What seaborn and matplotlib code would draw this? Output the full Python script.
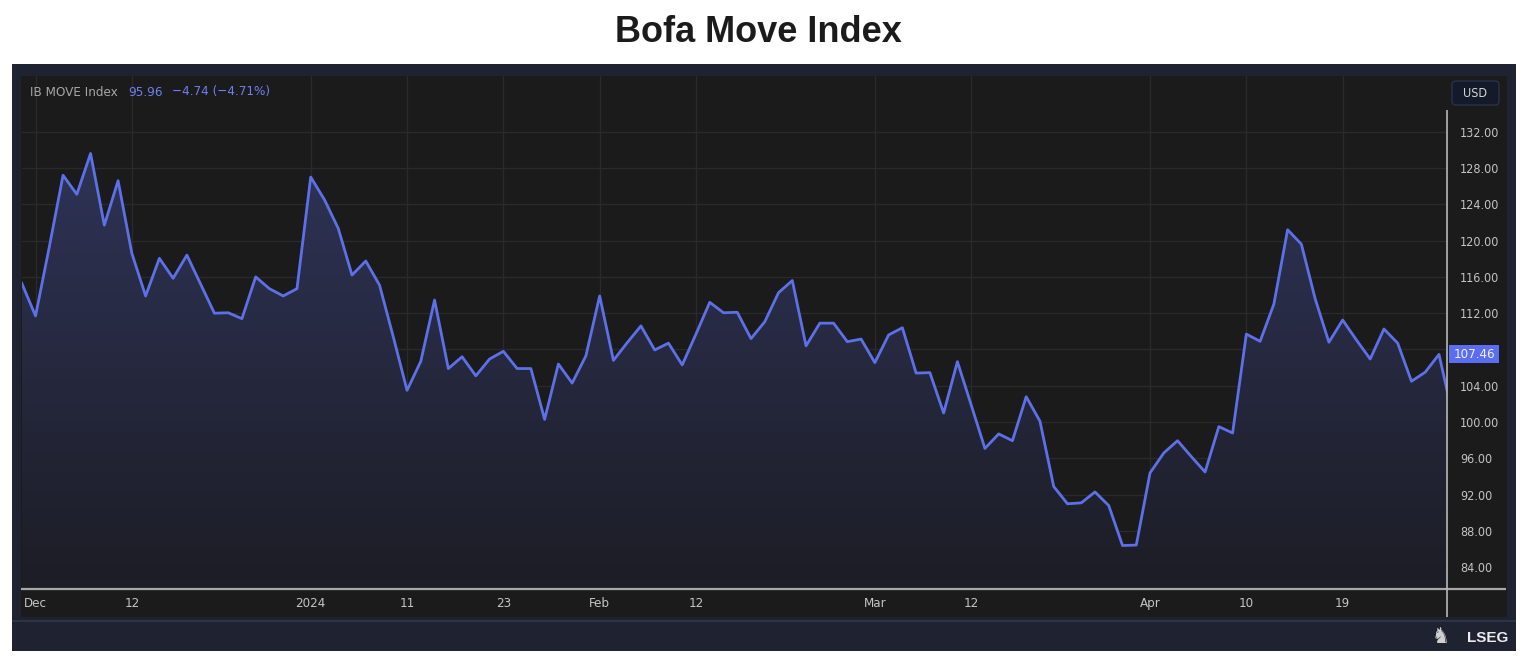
import numpy as np
import pandas as pd
import seaborn as sns
import matplotlib.pyplot as plt
from matplotlib.patches import Rectangle, FancyBboxPatch
from matplotlib.transforms import blended_transform_factory
from matplotlib.colors import LinearSegmentedColormap

# Pregões (dias úteis do mercado de títulos dos EUA)
feriados = ["2023-12-25", "2024-01-01", "2024-01-15", "2024-02-19", "2024-03-29"]
datas = pd.bdate_range("2023-11-30", "2024-05-01", freq="C", holidays=feriados)

# Valores do ICE BofA MOVE
valores = [
    115.3, 111.7, 119.3, 127.2, 125.1, 129.6, 121.7, 126.6, 118.6, 113.9,
    118.05, 115.85, 118.4, 115.2, 112.0, 112.05, 111.4, 116.0, 114.7, 113.9,
    114.7, 127.0, 124.5, 121.35, 116.2, 117.75, 115.1, 109.4, 103.5, 106.7,
    113.45, 105.9, 107.2, 105.1, 106.95, 107.8, 105.9, 105.9, 100.3, 106.4,
    104.3, 107.3, 113.9, 106.8, 108.75, 110.6, 107.95, 108.7, 106.3, 109.7,
    113.2, 112.05, 112.1, 109.2, 111.06, 114.26, 115.6, 108.4, 110.9, 110.9,
    108.86, 109.15, 106.55, 109.6, 110.4, 105.4, 105.45, 101.0, 106.66, 101.9,
    97.1, 98.7, 97.95, 102.8, 100.1, 92.9, 91.0, 91.1, 92.3, 90.8,
    86.4, 86.45, 94.4, 96.6, 97.95, 96.2, 94.5, 99.5, 98.8, 109.7,
    108.9, 113.0, 121.2, 119.6, 113.6, 108.8, 111.25, 109.05, 106.95, 110.26,
    108.7, 104.5, 105.5, 107.46, 100.70,
]
assert len(valores) == len(datas)

# Rótulos do eixo x
datas_ticks = ["2023-12-01", "2023-12-12", "2024-01-02", "2024-01-11", "2024-01-23", "2024-02-01",
               "2024-02-12", "2024-03-01", "2024-03-12", "2024-04-01", "2024-04-10", "2024-04-19"]
rotulos_ticks = ["Dec", "12", "2024", "11", "23", "Feb", "12", "Mar", "12", "Apr", "10", "19"]
niveis_y = list(range(84, 133, 4))

df = pd.DataFrame({"Data": datas, "Valor": valores})
df["Pos"] = np.arange(len(df))
ultimo_fechamento = valores[-2]

plt.rcParams["font.family"] = ["DejaVu Sans"]
plt.rcParams["font.stretch"] = "condensed"

W, H = 1528, 664
fig = plt.figure(figsize=(W / 100, H / 100), dpi=100, facecolor="white")

# Painel de fundo (coordenadas em pixels)
fundo = fig.add_axes([0, 0, 1, 1], zorder=0)
fundo.set_xlim(0, W)
fundo.set_ylim(H, 0)
fundo.axis("off")
fundo.add_patch(Rectangle((12, 64), 1504, 587, fc="#1e2231", ec="none"))
fundo.add_patch(Rectangle((21, 76), 1486, 541, fc="#1b1b1b", ec="none"))
fundo.plot([12, 1516], [621, 621], color="#2e3446", lw=1.5, solid_capstyle="butt")

# Eixo principal
x0, x1 = 21.5, 1447
y_top, y_bot = 76, 589
ax = fig.add_axes([x0 / W, 1 - y_bot / H, (x1 - x0) / W, (y_bot - y_top) / H], zorder=1)
ax.set_facecolor("none")

px_por_ponto = 13.76
px_por_unidade = 9.075
ymin = 132 - (y_bot - 131.7) / px_por_unidade
ymax = 132 + (131.7 - y_top) / px_por_unidade
xmax = (x1 - 21.7) / px_por_ponto

# Área com gradiente
area = ax.fill_between(df["Pos"], df["Valor"], ymin, color="none", lw=0)
cmap = LinearSegmentedColormap.from_list("grad", ["#1c1d25", "#32375f"])
grad = np.linspace(0, 1, 256).reshape(-1, 1)
img = ax.imshow(grad, cmap=cmap, origin="lower", aspect="auto",
                extent=[0, 1, 0, 1], transform=ax.transAxes, zorder=1)
img.set_clip_path(area.get_paths()[0], transform=ax.transData)

sns.lineplot(data=df, x="Pos", y="Valor", ax=ax, color="#5d70e8", linewidth=2.0, zorder=3)

ax.set_xlim(-0.02, xmax)
ax.set_ylim(ymin, ymax)

pos_ticks = [df.index[df["Data"] == pd.Timestamp(d)][0] for d in datas_ticks]
ax.set_xticks(pos_ticks)
ax.set_xticklabels(rotulos_ticks)
ax.set_yticks(niveis_y)
ax.set_yticklabels([f"{v:.2f}" for v in niveis_y])
ax.yaxis.tick_right()
ax.tick_params(axis="y", length=0, pad=9.5, labelsize=9, labelcolor="#c4c4c4")
ax.tick_params(axis="x", length=0, pad=6, labelsize=9.5, labelcolor="#c4c4c4")
ax.grid(True, color="#2a2a2c", lw=1)
ax.set_axisbelow(True)
for s in ax.spines.values():
    s.set_visible(False)
ax.set_xlabel("")
ax.set_ylabel("")

# Etiqueta do último valor no eixo de preços
trans = blended_transform_factory(fig.transFigure, ax.transData)
ax.add_patch(Rectangle((1449 / W, ultimo_fechamento - 9 / px_por_unidade), 50 / W,
                       18 / px_por_unidade, transform=trans, fc="#5b6ef2", ec="none",
                       clip_on=False, zorder=10))
ax.text(1474 / W, ultimo_fechamento, f"{ultimo_fechamento:.2f}", transform=trans,
        ha="center", va="center", fontsize=9.5, color="#eef0ff", clip_on=False, zorder=11)

# Camada superior: linhas de eixo, legenda, USD, logotipo
topo = fig.add_axes([0, 0, 1, 1], zorder=5)
topo.set_xlim(0, W)
topo.set_ylim(H, 0)
topo.axis("off")
topo.plot([21, 1506], [589, 589], color="#a8a8a8", lw=1.6, solid_capstyle="butt")
topo.plot([1447, 1447], [110, 617], color="#b8b8b8", lw=1.2, solid_capstyle="butt")
topo.add_patch(FancyBboxPatch((1452, 81), 47, 24, boxstyle="round,pad=0,rounding_size=4",
                              fc="#141a2a", ec="#2b3247", lw=1))
topo.text(1475.5, 93.5, "USD", ha="center", va="center", fontsize=9, color="#d6d6d6")
topo.text(30, 92, "IB MOVE Index", ha="left", va="center", fontsize=9.6, color="#a6a6a6")
topo.text(128, 92, "95.96", ha="left", va="center", fontsize=9.6, color="#6f7ef0")
topo.text(172, 92, "\u22124.74 (\u22124.71%)", ha="left", va="center", fontsize=9.6, color="#6f7ef0")
topo.text(1508, 638, "LSEG", ha="right", va="center", fontsize=11, fontweight="bold",
          color="#ececec", family=["Liberation Sans", "DejaVu Sans"])
topo.text(1441, 637, "\u265e", ha="center", va="center", fontsize=16, color="#d0d0d0")

fig.text(758 / W, 1 - 33 / H, "Bofa Move Index", ha="center", va="center", fontsize=26,
         fontweight="bold", color="#1b1b1b", family=["Liberation Sans", "DejaVu Sans"],
         stretch="normal")

fig.savefig("out.png", dpi=100, facecolor="white")
